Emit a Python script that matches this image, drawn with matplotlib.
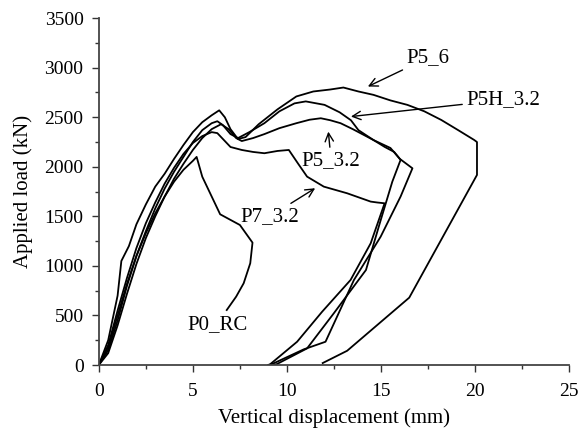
import matplotlib.pyplot as plt
from matplotlib.ticker import MultipleLocator

plt.rcParams['font.family'] = ['Liberation Serif', 'DejaVu Serif']

# displacement (mm) / load (kN)
p56_x = [0, 0.5, 1.0, 1.2, 1.6, 2.0, 2.5, 3.0, 3.5, 4.0, 4.5, 5.0, 5.5, 6.0, 6.4, 6.7, 7.0, 7.4, 7.8,
         8.5, 9.5, 10.5, 11.4, 12.3, 13.0, 13.8, 14.6, 15.5, 16.4, 17.3, 18.2, 19.1, 19.95, 20.1, 20.1,
         16.5, 13.2, 11.9]
p56_y = [0, 250, 700, 1050, 1200, 1420, 1620, 1800, 1930, 2080, 2220, 2350, 2450, 2520, 2570, 2500, 2380, 2280, 2300,
         2430, 2580, 2710, 2760, 2780, 2800, 2760, 2726, 2670, 2625, 2560, 2473, 2370, 2271, 2250, 1918,
         680, 144, 20]

p5h_x = [0, 0.5, 1.0, 1.5, 2.0, 2.5, 3.0, 3.5, 4.0, 4.5, 5.0, 5.5, 6.0, 6.3, 6.6, 7.0, 7.4, 8.0, 8.8,
         9.6, 10.4, 11.0, 12.0, 12.8, 13.4, 13.8, 14.6, 15.5, 16.0, 16.67, 16.04, 14.98, 13.56, 12.05,
         10.89, 9.29, 9.1]
p5h_y = [0, 150, 450, 800, 1100, 1350, 1580, 1780, 1950, 2100, 2250, 2370, 2440, 2460, 2420, 2330, 2290, 2350, 2440,
         2560, 2640, 2660, 2625, 2550, 2470, 2370, 2270, 2190, 2080, 1985, 1700, 1295, 858, 235,
         158, 17, 0]

p532_x = [0, 0.5, 1.0, 1.5, 2.0, 2.5, 3.0, 3.5, 4.0, 4.5, 5.0, 5.5, 6.0, 6.5, 6.9, 7.3, 7.6, 8.2, 8.8,
          9.6, 10.5, 11.2, 11.8, 12.3, 12.85, 13.5, 14.1, 14.6, 15.2, 15.7, 16.04, 15.6, 14.98, 14.2,
          12.49, 11.07, 9.47, 9.3]
p532_y = [0, 120, 400, 720, 1020, 1280, 1500, 1700, 1880, 2030, 2170, 2290, 2380, 2430, 2380, 2290, 2260, 2290, 2330,
          2390, 2440, 2475, 2490, 2470, 2440, 2380, 2320, 2270, 2200, 2150, 2070, 1850, 1460, 959,
          522, 168, 10, 0]

p732_x = [0, 0.5, 1.0, 1.5, 2.0, 2.5, 3.0, 3.5, 4.0, 4.5, 5.0, 5.5, 6.0, 6.3, 6.7, 7.0, 7.6, 8.2, 8.8,
          9.5, 10.1, 10.6, 11.07, 11.96, 13.2, 14.45, 14.8, 15.19, 14.45, 13.38, 11.87, 10.54, 9.12, 9.0]
p732_y = [0, 200, 550, 880, 1180, 1430, 1640, 1830, 1990, 2130, 2240, 2310, 2350, 2340, 2260, 2200, 2170, 2150, 2137,
          2160, 2170, 2030, 1901, 1800, 1733, 1649, 1640, 1632, 1228, 858, 538, 235, 10, 0]

p0_x = [0, 0.5, 1.0, 1.5, 2.0, 2.5, 3.0, 3.5, 4.0, 4.5, 5.0, 5.2, 5.5, 6.45, 7.5, 8.17, 8.05, 7.7, 7.3, 6.8]
p0_y = [0, 180, 500, 820, 1100, 1330, 1530, 1700, 1850, 1970, 2060, 2100, 1900, 1521, 1413, 1235, 1027, 825, 690, 555]

fig = plt.figure(figsize=(5.88, 4.32), dpi=100)
ax = fig.add_axes([0.168, 0.155, 0.8, 0.803])

for xs, ys in [(p56_x, p56_y), (p5h_x, p5h_y), (p532_x, p532_y), (p732_x, p732_y), (p0_x, p0_y)]:
    ax.plot(xs, ys, color='black', lw=1.3)

fs = 15
arrow = dict(arrowstyle='->', color='black', lw=1.0, shrinkA=1, shrinkB=0)
ax.annotate('P5_6', xy=(14.3, 2810), xytext=(17.5, 3100), ha='center', va='center',
            fontsize=fs, arrowprops=arrow)
ax.annotate('P5H_3.2', xy=(13.4, 2507), xytext=(21.5, 2675), ha='center', va='center',
            fontsize=fs, arrowprops=arrow)
ax.annotate('P5_3.2', xy=(12.2, 2355), xytext=(12.35, 2060), ha='center', va='center',
            fontsize=fs, arrowprops=arrow)
ax.annotate('P7_3.2', xy=(11.5, 1784), xytext=(9.1, 1500), ha='center', va='center',
            fontsize=fs, arrowprops=arrow)
ax.text(6.3, 410, 'P0_RC', ha='center', va='center', fontsize=fs)

ax.set_xlim(0, 25)
ax.set_ylim(0, 3500)
ax.xaxis.set_major_locator(MultipleLocator(5))
ax.xaxis.set_minor_locator(MultipleLocator(2.5))
ax.yaxis.set_major_locator(MultipleLocator(500))
ax.yaxis.set_minor_locator(MultipleLocator(250))
ax.tick_params(which='major', direction='out', length=5, width=1, labelsize=14, colors='#333333',
               labelcolor='black')
ax.tick_params(axis='y', which='major', pad=6)
ax.tick_params(axis='x', which='major', pad=8)
ax.tick_params(which='minor', direction='out', length=3, width=1, colors='#333333')
for s in ['top', 'right']:
    ax.spines[s].set_visible(False)
for s in ['left', 'bottom']:
    ax.spines[s].set_color('#444444')
    ax.spines[s].set_linewidth(1.3)

ax.set_xlabel('Vertical displacement (mm)', fontsize=15, labelpad=6)
ax.set_ylabel('Applied load (kN)', fontsize=15, labelpad=8)

fig.savefig('out.png', dpi=100)
